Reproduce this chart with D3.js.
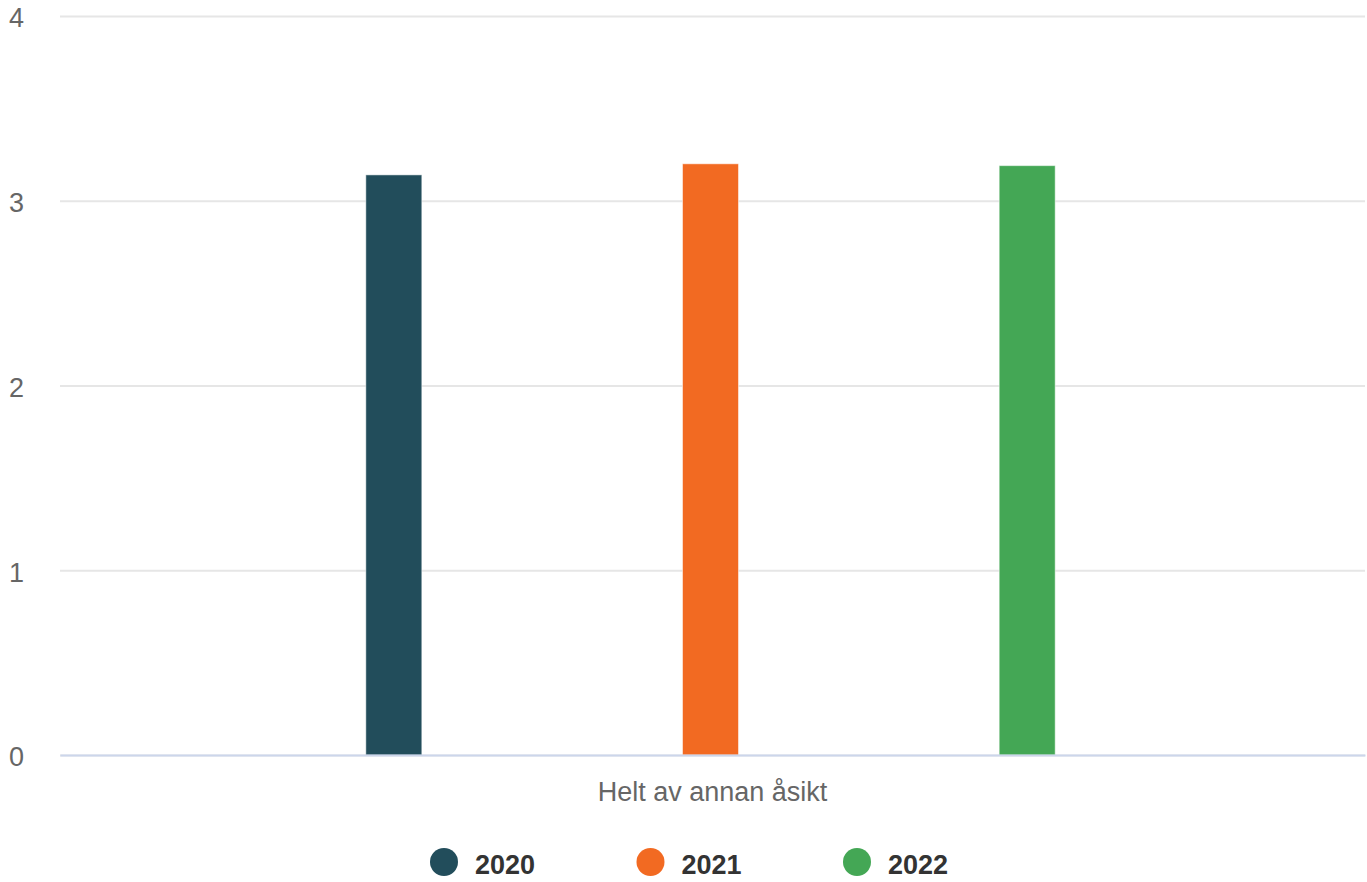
<!DOCTYPE html>
<html>
<head>
<meta charset="utf-8">
<script src="https://cdn.jsdelivr.net/npm/d3@7"></script>
<style>
  html, body { margin: 0; padding: 0; background: #fff; }
  svg { display: block; font-family: "Liberation Sans", Arial, sans-serif; }
</style>
</head>
<body>
<svg id="chart" width="1367" height="882"></svg>
<script>
// data
const categories = ['Helt av annan åsikt']
const years = ['2020', '2021', '2022']
const values2020 = [3.14]
const values2021 = [3.2]
const values2022 = [3.19]
const yTicks = [0, 1, 2, 3, 4]
const colors = ['#224d5b', '#f26a22', '#44a755']

const seriesValues = [values2020, values2021, values2022]

//

const width = 1367
const height = 882
const margin = { top: 16, right: 2, bottom: 127, left: 60 }
const plotW = width - margin.left - margin.right
const plotH = height - margin.top - margin.bottom

const svg = d3.select('#chart')

const g = svg.append('g')
  .attr('transform', `translate(${margin.left},${margin.top})`)

const y = d3.scaleLinear()
  .domain([0, 4])
  .range([plotH, 0])

const x0 = d3.scaleBand()
  .domain(categories)
  .range([0, plotW])

const groupPad = 0.136
const x1 = d3.scaleBand()
  .domain(years)
  .range([x0.bandwidth() * groupPad - 2, x0.bandwidth() * (1 - groupPad) - 2])

const barWidth = 56

// grid
const yAxis = d3.axisLeft(y)
  .tickValues(yTicks)
  .tickFormat(d3.format('d'))
  .tickSize(-plotW)

const gY = g.append('g')
  .attr('class', 'axis axis--y')
  .call(yAxis)

gY.select('.domain').remove()
gY.selectAll('.tick line')
  .attr('stroke', '#e6e6e6')
  .attr('stroke-width', 2)
gY.selectAll('.tick text')
  .attr('fill', '#666666')
  .attr('font-size', 27)
  .attr('text-anchor', 'start')
  .attr('x', -51)
  .attr('dy', '0.4em')

// bars
const groups = g.selectAll('.cat')
  .data(categories)
  .enter()
  .append('g')
  .attr('class', 'cat')
  .attr('transform', (d) => `translate(${x0(d)},0)`)

groups.selectAll('rect')
  .data((d, ci) => years.map((yr, si) => ({ year: yr, value: seriesValues[si][ci], color: colors[si] })))
  .enter()
  .append('rect')
  .attr('x', (d) => x1(d.year) + x1.bandwidth() / 2 - barWidth / 2)
  .attr('y', (d) => y(d.value))
  .attr('width', barWidth)
  .attr('height', (d) => y(0) - y(d.value))
  .attr('fill', (d) => d.color)
  .attr('stroke', '#ffffff')
  .attr('stroke-opacity', 0.5)
  .attr('stroke-width', 1)

// x axis
const xAxis = d3.axisBottom(x0)
  .tickSize(0)
  .tickPadding(27)

const gX = g.append('g')
  .attr('class', 'axis axis--x')
  .attr('transform', `translate(0,${plotH})`)
  .call(xAxis)

gX.select('.domain')
  .attr('stroke', '#ccd6eb')
  .attr('stroke-width', 2)
gX.selectAll('.tick text')
  .attr('fill', '#666666')
  .attr('font-size', 27)

// legend
const legend = svg.append('g')
  .attr('class', 'legend')
  .attr('transform', 'translate(444,862)')

const items = legend.selectAll('g')
  .data(years)
  .enter()
  .append('g')
  .attr('transform', (d, i) => `translate(${i * 206.5},0)`)

items.append('circle')
  .attr('r', 14)
  .attr('fill', (d, i) => colors[i])

items.append('text')
  .attr('x', 31)
  .attr('y', 12)
  .attr('font-size', 27)
  .attr('font-weight', 'bold')
  .attr('fill', '#333333')
  .text((d) => d)
</script>
</body>
</html>
